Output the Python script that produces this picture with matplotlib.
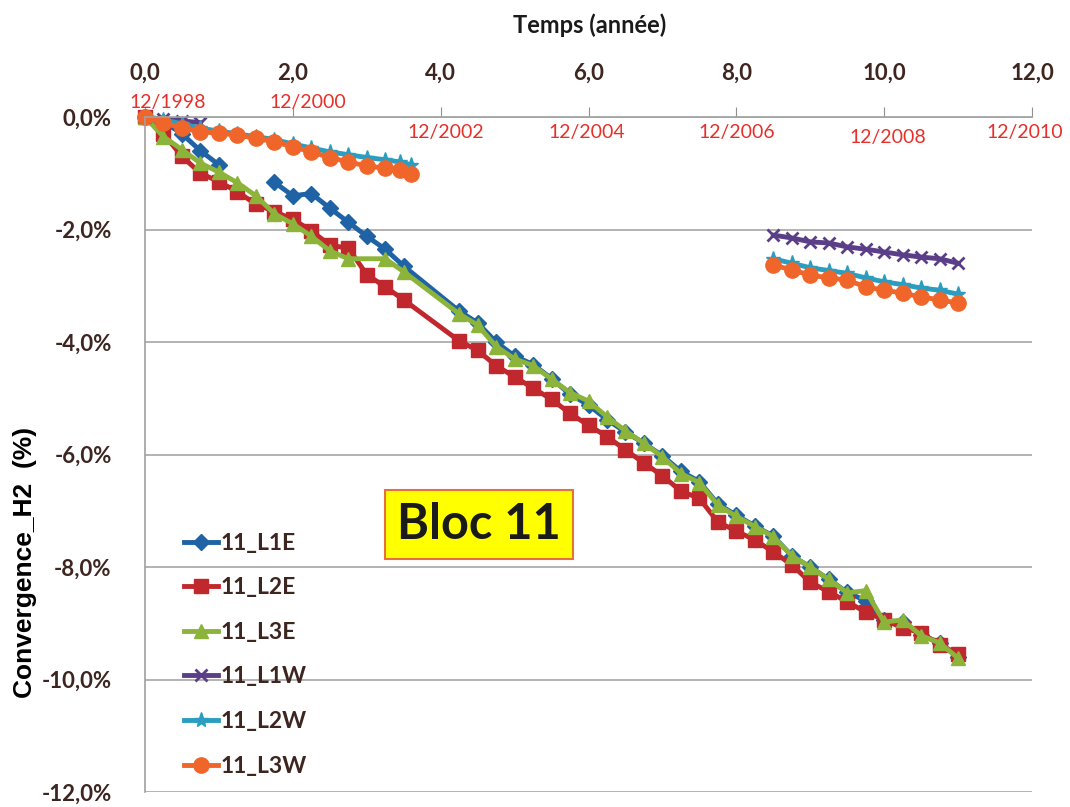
import matplotlib
matplotlib.use("Agg")
import matplotlib.pyplot as plt

# time axis (years) and convergence values (%)
t_L1E_a = [0, 0.25, 0.5, 0.75, 1.0]
L1E_a = [0, -0.08, -0.3, -0.6, -0.85]
t_L1E_b = [1.75, 2.0, 2.25, 2.5, 2.75, 3.0, 3.25, 3.5,
           4.25, 4.5, 4.75, 5.0, 5.25, 5.5, 5.75, 6.0, 6.25, 6.5, 6.75, 7.0,
           7.25, 7.5, 7.75, 8.0, 8.25, 8.5, 8.75, 9.0, 9.25, 9.5, 9.75, 10.0,
           10.25, 10.5, 10.75, 11.0]
L1E_b = [-1.16, -1.4, -1.36, -1.62, -1.87, -2.12, -2.35, -2.65,
         -3.45, -3.66, -4.0, -4.25, -4.4, -4.65, -4.93, -5.12, -5.38, -5.6, -5.8, -6.02,
         -6.3, -6.48, -6.88, -7.08, -7.27, -7.45, -7.8, -8.0, -8.22, -8.45, -8.6, -8.95,
         -8.98, -9.2, -9.35, -9.6]

t_L2E = [0, 0.25, 0.5, 0.75, 1.0, 1.25, 1.5, 1.75, 2.0, 2.25, 2.5, 2.75, 3.0, 3.25, 3.5,
         4.25, 4.5, 4.75, 5.0, 5.25, 5.5, 5.75, 6.0, 6.25, 6.5, 6.75, 7.0,
         7.25, 7.5, 7.75, 8.0, 8.25, 8.5, 8.75, 9.0, 9.25, 9.5, 9.75, 10.0,
         10.25, 10.5, 10.75, 11.0]
L2E = [0, -0.3, -0.7, -1.0, -1.15, -1.33, -1.55, -1.68, -1.82, -2.02, -2.28, -2.33, -2.8, -3.02, -3.25,
       -3.98, -4.15, -4.42, -4.62, -4.82, -5.02, -5.27, -5.48, -5.68, -5.92, -6.15, -6.38,
       -6.65, -6.78, -7.2, -7.36, -7.52, -7.73, -7.96, -8.27, -8.44, -8.62, -8.8, -8.94,
       -9.08, -9.17, -9.38, -9.55]

t_L3E = [0, 0.25, 0.5, 0.75, 1.0, 1.25, 1.5, 1.75, 2.0, 2.25, 2.5, 2.75, 3.25, 3.5,
         4.25, 4.5, 4.75, 5.0, 5.25, 5.5, 5.75, 6.0, 6.25, 6.5, 6.75, 7.0,
         7.25, 7.5, 7.75, 8.0, 8.25, 8.5, 8.75, 9.0, 9.25, 9.5, 9.75, 10.0,
         10.25, 10.5, 10.75, 11.0]
L3E = [0, -0.35, -0.58, -0.82, -0.98, -1.17, -1.4, -1.72, -1.9, -2.12, -2.38, -2.52, -2.52, -2.75,
       -3.5, -3.7, -4.08, -4.3, -4.42, -4.66, -4.9, -5.05, -5.33, -5.58, -5.8, -6.04,
       -6.34, -6.5, -6.9, -7.1, -7.28, -7.46, -7.8, -8.0, -8.22, -8.46, -8.42, -8.98,
       -8.94, -9.22, -9.35, -9.62]

t_W_a = [0, 0.25, 0.5, 0.75, 1.0, 1.25, 1.5, 1.75, 2.0, 2.25, 2.5, 2.75, 3.0, 3.25, 3.45, 3.6]
t_W_b = [8.5, 8.75, 9.0, 9.25, 9.5, 9.75, 10.0, 10.25, 10.5, 10.75, 11.0]

t_L1W_a = [0, 0.25, 0.5, 0.75]
L1W_a = [0, -0.04, -0.07, -0.1]
L1W_b = [-2.1, -2.15, -2.22, -2.24, -2.31, -2.35, -2.4, -2.45, -2.49, -2.52, -2.6]

L2W_a = [0, -0.05, -0.12, -0.2, -0.25, -0.3, -0.35, -0.4, -0.48, -0.55, -0.62, -0.67, -0.72, -0.76, -0.8, -0.85]
L2W_b = [-2.52, -2.6, -2.68, -2.73, -2.78, -2.86, -2.93, -2.98, -3.04, -3.08, -3.15]

L3W_a = [0, -0.1, -0.2, -0.26, -0.29, -0.32, -0.38, -0.44, -0.53, -0.62, -0.72, -0.8, -0.87, -0.91, -0.95, -1.02]
L3W_b = [-2.63, -2.72, -2.81, -2.86, -2.9, -3.02, -3.08, -3.13, -3.2, -3.25, -3.31]

xtick_vals = [0, 2, 4, 6, 8, 10, 12]
xtick_labels = ['0,0', '2,0', '4,0', '6,0', '8,0', '10,0', '12,0']
ytick_vals = [0, -2, -4, -6, -8, -10, -12]
ytick_labels = ['0,0%', '-2,0%', '-4,0%', '-6,0%', '-8,0%', '-10,0%', '-12,0%']

date_labels = ['12/1998', '12/2000', '12/2002', '12/2004', '12/2006', '12/2008', '12/2010']
date_x = [0.31, 2.2, 4.07, 5.98, 8.01, 10.05, 11.9]
date_y = [0.25, 0.25, -0.28, -0.28, -0.28, -0.36, -0.28]

brown = '#3d2620'
c_blue = '#1f63a6'
c_red = '#c0282d'
c_green = '#8cb43a'
c_purple = '#5b3e88'
c_cyan = '#2a9dc0'
c_orange = '#f0662a'

fig = plt.figure(figsize=(10.7, 8.07), dpi=100)
ax = fig.add_axes([145/1070, 1-792/807, (1032-145)/1070, (792-117)/807])

lw = 3.5
# E series
ax.plot(t_L1E_a, L1E_a, color=c_blue, marker='D', ms=8, lw=lw, clip_on=False)
ax.plot(t_L1E_b, L1E_b, color=c_blue, marker='D', ms=8, lw=lw, clip_on=False, label='11_L1E')
ax.plot(t_L2E, L2E, color=c_red, marker='s', ms=9.5, lw=lw, clip_on=False, label='11_L2E')
ax.plot(t_L3E, L3E, color=c_green, marker='^', ms=10, lw=lw, clip_on=False, label='11_L3E')
# W series
ax.plot(t_L1W_a, L1W_a, color=c_purple, marker='x', ms=9, mew=2, lw=lw, clip_on=False)
ax.plot(t_W_b, L1W_b, color=c_purple, marker='x', ms=9, mew=2, lw=lw, clip_on=False, label='11_L1W')
ax.plot(t_W_a, L2W_a, color=c_cyan, marker='*', ms=11, lw=lw, clip_on=False)
ax.plot(t_W_b, L2W_b, color=c_cyan, marker='*', ms=11, lw=lw, clip_on=False, label='11_L2W')
ax.plot(t_W_a, L3W_a, color=c_orange, marker='o', ms=11, lw=lw, clip_on=False)
ax.plot(t_W_b, L3W_b, color=c_orange, marker='o', ms=11, lw=lw, clip_on=False, label='11_L3W')

ax.set_xlim(0, 12)
ax.set_ylim(-12, 0)
ax.xaxis.tick_top()
ax.set_xticks(xtick_vals)
ax.set_xticklabels(xtick_labels, fontsize=16, fontweight='bold', color=brown, family='Lato')
ax.set_yticks(ytick_vals)
ax.set_yticklabels(ytick_labels, fontsize=16, fontweight='bold', color=brown, family='Lato')
ax.tick_params(axis='x', length=7, color='#909090', pad=17)
ax.tick_params(axis='y', length=0, pad=24)
ax.yaxis.grid(True, color='#a6a6a6', lw=1.2)
ax.set_axisbelow(True)
for s in ['right', 'bottom']:
    ax.spines[s].set_visible(False)
for s in ['top', 'left']:
    ax.spines[s].set_color('#a0a0a0')
    ax.spines[s].set_linewidth(1.2)

ax.set_ylabel('Convergence_H2  (%)', fontsize=19, fontweight='bold', family='Liberation Sans')
ax.yaxis.set_label_coords(-0.122, 0.34)
fig.text(590/1070, 1-25/807, 'Temps (année)', ha='center', va='center',
         fontsize=17, fontweight='bold', family='Lato', color='#1a1a1a')

for lab, x, y in zip(date_labels, date_x, date_y):
    ax.text(x, y, lab, color='#e8302a', fontsize=14, family='Lato', ha='center', va='center')

ax.text(4.52, -7.24, 'Bloc 11', fontsize=35, fontweight='bold', family='Lato', color='#1a1a1a',
        ha='center', va='center',
        bbox=dict(boxstyle='square,pad=0.25', facecolor='#ffff00', edgecolor='#e8703a', lw=1.5))

leg = ax.legend(loc='upper left', bbox_to_anchor=(163/1070, 1-512/807), bbox_transform=fig.transFigure,
                frameon=False, handlelength=1.5, handletextpad=0.1, labelspacing=1.03,
                prop={'family': 'Lato', 'weight': 'bold', 'size': 16.5})
for txt in leg.get_texts():
    txt.set_color(brown)

plt.savefig('out.png', dpi=100)
